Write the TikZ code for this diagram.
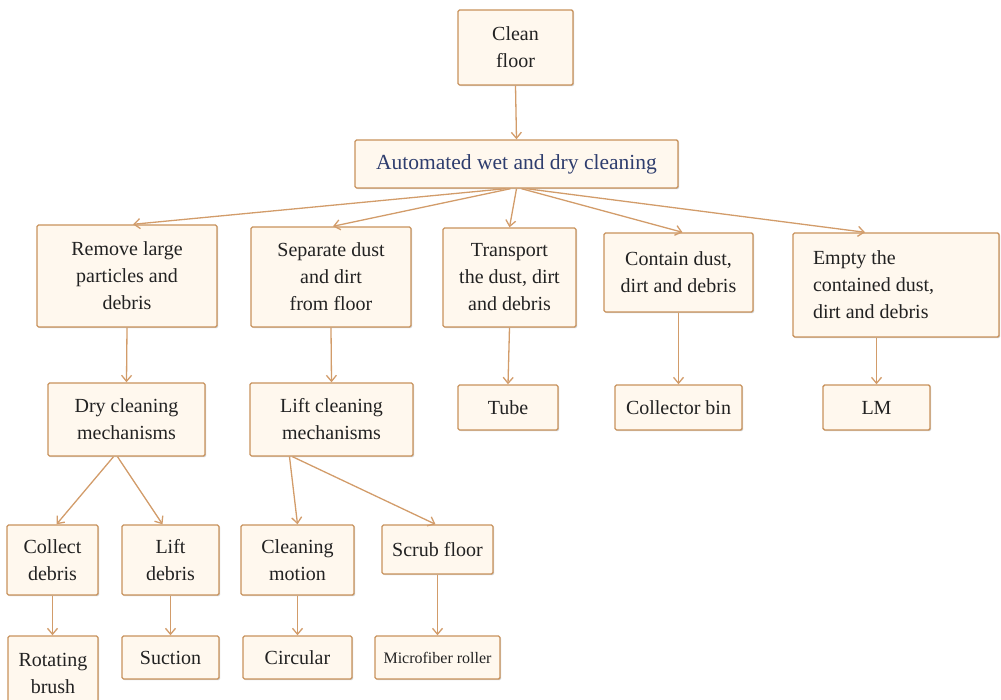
\documentclass[tikz,border=0pt]{standalone}
\usepackage{fontspec}
\setmainfont{Liberation Serif}
\usetikzlibrary{arrows.meta,shadows}
\definecolor{boxline}{HTML}{C8925C}
\definecolor{boxfill}{HTML}{FFF8EE}
\definecolor{arrowcol}{HTML}{D29C6A}
\definecolor{txt}{HTML}{222222}
\definecolor{bluetxt}{HTML}{2E3D6E}
\begin{document}
\begin{tikzpicture}[x=1pt,y=-1pt,
  box/.style={draw=boxline, line width=1.4pt, fill=boxfill, rounded corners=1.5pt,
    align=center, inner sep=0pt, text=txt,
    font=\fontsize{20}{27}\selectfont,
    drop shadow={shadow xshift=1.2pt, shadow yshift=-1.2pt, fill=black, opacity=0.18}},
  conn/.style={draw=arrowcol, line width=1.3pt, -{Straight Barb[length=6pt,width=10pt]}}
]
\useasboundingbox (0,0) rectangle (1001,700);
\begin{scope}
\clip (0,0) rectangle (1001,700);
% level 0
\node[box, minimum width=115pt, minimum height=75pt] (clean) at (515.5,47.5) {Clean\\floor};
% level 1
\node[box, minimum width=323pt, minimum height=48pt, text=bluetxt, font=\fontsize{21.5}{27}\selectfont] (auto) at (516.5,164) {Automated wet and dry cleaning};
% level 2
\node[box, minimum width=180pt, minimum height=102pt] (remove) at (127,276) {Remove large\\particles and\\debris};
\node[box, minimum width=160pt, minimum height=100pt] (separate) at (331,277) {Separate dust\\and dirt\\from floor};
\node[box, minimum width=133pt, minimum height=99pt] (transport) at (509.5,277.5) {Transport\\the dust, dirt\\and debris};
\node[box, minimum width=149pt, minimum height=79pt] (contain) at (678.5,272.5) {Contain dust,\\dirt and debris};
\node[box, minimum width=206pt, minimum height=104pt, align=flush left, text width=166pt, inner xsep=20pt] (empty) at (896,285) {Empty the\\contained dust,\\dirt and debris};
% level 3
\node[box, minimum width=157pt, minimum height=73pt] (dry) at (126.5,419.5) {Dry cleaning\\mechanisms};
\node[box, minimum width=163pt, minimum height=73pt] (liftc) at (331.5,419.5) {Lift cleaning\\mechanisms};
\node[box, minimum width=100pt, minimum height=45pt] (tube) at (508,407.5) {Tube};
\node[box, minimum width=127pt, minimum height=45pt] (bin) at (678.5,407.5) {Collector bin};
\node[box, minimum width=107pt, minimum height=45pt] (lm) at (876.5,407.5) {LM};
% level 4
\node[box, minimum width=91pt, minimum height=70pt] (collect) at (52.5,560) {Collect\\debris};
\node[box, minimum width=97pt, minimum height=70pt] (liftd) at (170.5,560) {Lift\\debris};
\node[box, minimum width=113pt, minimum height=70pt] (motion) at (297.5,560) {Cleaning\\motion};
\node[box, minimum width=111pt, minimum height=49pt] (scrub) at (437.5,549.5) {Scrub floor};
% level 5
\node[box, minimum width=90pt, minimum height=74pt] (rot) at (53,673) {Rotating\\brush};
\node[box, minimum width=97pt, minimum height=43pt] (suction) at (170.5,657.5) {Suction};
\node[box, minimum width=109pt, minimum height=43pt] (circular) at (297.5,657.5) {Circular};
\node[box, minimum width=125pt, minimum height=43pt, font=\fontsize{16}{20}\selectfont] (micro) at (437.5,657.5) {Microfiber roller};
\end{scope}
% connectors
\draw[conn] (clean.south) -- (auto.north);
\draw[conn] ([xshift=-11pt]auto.south) -- ([xshift=6pt]remove.north);
\draw[conn] ([xshift=-6pt]auto.south) -- ([xshift=2pt]separate.north);
\draw[conn] (auto.south) -- (transport.north);
\draw[conn] ([xshift=5pt]auto.south) -- ([xshift=4pt]contain.north);
\draw[conn] ([xshift=10pt]auto.south) -- ([xshift=-31pt]empty.north);
\draw[conn] (remove.south) -- (dry.north);
\draw[conn] (separate.south) -- (liftc.north);
\draw[conn] (transport.south) -- (tube.north);
\draw[conn] (contain.south) -- (bin.north);
\draw[conn] (lm.north |- empty.south) -- (lm.north);
\draw[conn] ([xshift=-13pt]dry.south) -- ([xshift=4pt]collect.north);
\draw[conn] ([xshift=-9pt]dry.south) -- ([xshift=-8pt]liftd.north);
\draw[conn] ([xshift=-42pt]liftc.south) -- (motion.north);
\draw[conn] ([xshift=-39pt]liftc.south) -- ([xshift=-2pt]scrub.north);
\draw[conn] (collect.south) -- (collect.south |- rot.north);
\draw[conn] (liftd.south) -- (suction.north);
\draw[conn] (motion.south) -- (circular.north);
\draw[conn] (scrub.south) -- (micro.north);
\end{tikzpicture}
\end{document}
